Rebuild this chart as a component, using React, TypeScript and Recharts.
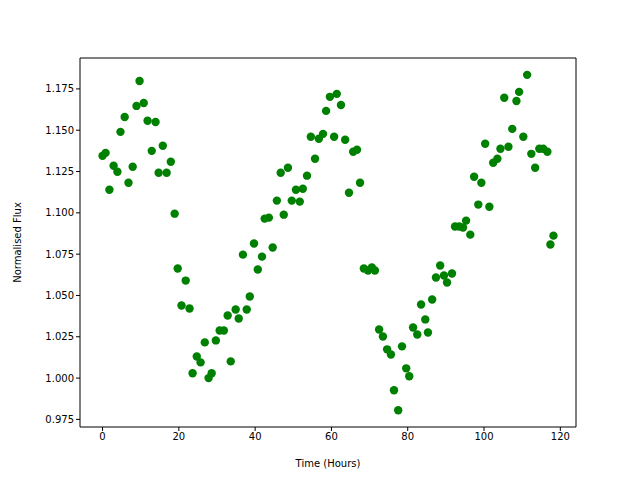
import { ScatterChart, Scatter, XAxis, YAxis, ReferenceLine } from 'recharts';

// time in hours
const hours = [
  0.0, 0.8, 1.8, 2.9, 3.9, 4.7, 5.8, 6.8, 7.9, 8.9,
  9.7, 10.8, 11.8, 12.9, 13.9, 14.7, 15.8, 16.8, 17.9, 18.9,
  19.7, 20.7, 21.8, 22.8, 23.6, 24.7, 25.7, 26.8, 27.8, 28.6,
  29.7, 30.7, 31.8, 32.8, 33.6, 34.9, 35.7, 36.8, 37.8, 38.6,
  39.7, 40.7, 41.8, 42.5, 43.6, 44.6, 45.7, 46.7, 47.5, 48.6,
  49.6, 50.7, 51.7, 52.5, 53.6, 54.6, 55.7, 56.7, 57.8, 58.6,
  59.6, 60.7, 61.4, 62.5, 63.6, 64.6, 65.7, 66.7, 67.5, 68.5,
  69.6, 70.6, 71.4, 72.5, 73.5, 74.6, 75.6, 76.4, 77.5, 78.5,
  79.6, 80.4, 81.4, 82.5, 83.5, 84.6, 85.3, 86.4, 87.4, 88.5,
  89.5, 90.3, 91.6, 92.4, 93.5, 94.5, 95.3, 96.4, 97.4, 98.5,
  99.3, 100.3, 101.4, 102.4, 103.5, 104.3, 105.3, 106.4, 107.4, 108.5,
  109.2, 110.3, 111.3, 112.4, 113.4, 114.5, 115.5, 116.6, 117.4, 118.2,
];

const flux = [
  1.1345, 1.1363, 1.114, 1.1285, 1.1249, 1.149, 1.158, 1.1182, 1.1279, 1.1647,
  1.1798, 1.1665, 1.1557, 1.1375, 1.155, 1.1243, 1.1406, 1.1243, 1.1309, 1.0995,
  1.0663, 1.0439, 1.059, 1.0421, 1.0029, 1.0131, 1.0095, 1.0216, 1.0, 1.0029,
  1.0228, 1.0288, 1.0288, 1.0379, 1.0101, 1.0415, 1.0361, 1.0747, 1.0415, 1.0494,
  1.0814, 1.0657, 1.0735, 1.0965, 1.0971, 1.079, 1.1074, 1.1243, 1.0989, 1.1273,
  1.1074, 1.114, 1.1068, 1.1146, 1.1225, 1.146, 1.1327, 1.1448, 1.1478, 1.1617,
  1.1702, 1.146, 1.172, 1.1653, 1.1442, 1.1122, 1.137, 1.1382, 1.1182, 1.0663,
  1.0651, 1.0669, 1.0651, 1.0294, 1.0252, 1.0174, 1.0143, 0.9926, 0.9805, 1.0192,
  1.0059, 1.0011, 1.0306, 1.0264, 1.0445, 1.0355, 1.0276, 1.0476, 1.0609, 1.0681,
  1.0621, 1.0578, 1.0633, 1.0917, 1.0917, 1.0911, 1.0953, 1.0868, 1.1218, 1.105,
  1.1182, 1.1418, 1.1037, 1.1303, 1.1327, 1.1388, 1.1696, 1.14, 1.1508, 1.1677,
  1.1732, 1.146, 1.1835, 1.1357, 1.1273, 1.1388, 1.1388, 1.137, 1.0808, 1.0862,
];

const xTicks = [0, 20, 40, 60, 80, 100, 120];
const yTicks = [0.975, 1.0, 1.025, 1.05, 1.075, 1.1, 1.125, 1.15, 1.175];
const xDomain = [-5.91, 124.11];
const yDomain = [0.9704, 1.1937];

const data = hours.map((t, i) => ({ t, f: flux[i] }));

const font = 'DejaVu Sans';
const tickStyle = { fontSize: 10, fill: '#000', fontFamily: font };

const Dot = (props: any) => (
  <circle cx={props.cx} cy={props.cy} r={4.2} fill="#008000" />
);

export default function App() {
  return (
    <div style={{ position: 'absolute', left: 0, top: 0 }}>
      <ScatterChart
        width={640}
        height={480}
        margin={{ top: 58, right: 64, left: 0, bottom: 0 }}
      >
        <XAxis
          type="number"
          dataKey="t"
          domain={xDomain}
          ticks={xTicks}
          allowDataOverflow
          height={53}
          tickSize={4}
          stroke="#000"
          tick={tickStyle}
          label={{
            value: 'Time (Hours)',
            position: 'insideBottom',
            offset: 13,
            style: { fontSize: 10, fill: '#000', fontFamily: font },
          }}
        />
        <YAxis
          type="number"
          dataKey="f"
          domain={yDomain}
          ticks={yTicks}
          allowDataOverflow
          width={80}
          tickSize={4}
          stroke="#000"
          tick={tickStyle}
          tickFormatter={(v: number) => v.toFixed(3)}
          label={{
            value: 'Normalised Flux',
            angle: -90,
            position: 'insideLeft',
            offset: 17,
            style: { fontSize: 10, fill: '#000', fontFamily: font, textAnchor: 'middle' },
          }}
        />
        <ReferenceLine x={xDomain[1]} stroke="#000" />
        <ReferenceLine y={yDomain[1]} stroke="#000" />
        <Scatter
          data={data}
          fill="#008000"
          shape={Dot}
          isAnimationActive={false}
        />
      </ScatterChart>
    </div>
  );
}
